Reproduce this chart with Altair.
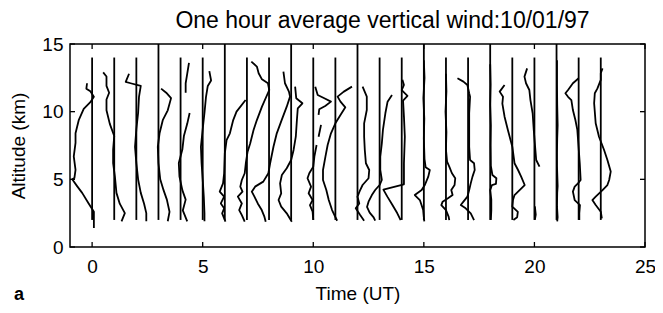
import altair as alt
import pandas as pd

# ---- data -----------------------------------------------------------------
HOURS = list(range(24))
EXTENDED = [3, 6, 9, 12, 15, 18, 21]      # reference lines drawn to the top
REF_BOTTOM = 2.0
REF_TOP = 14.0
EXT_TOP = 15.0
XTICKS = [0, 5, 10, 15, 20, 25]
YTICKS = [0, 5, 10, 15]

# each profile: [altitude km, offset from its hour line]; None = gap
w00 = [[12.1, -0.23], [11.7, -0.26], [11.5, -0.08], [11.1, 0.08], [10.7, -0.08], [10.2, -0.38],
       [9.4, -0.6], [8.4, -0.75], [7.7, -0.75], [6.7, -0.83], [5.7, -0.75], [5.1, -0.8],
       [5.0, -0.9], [4.5, -0.68], [4.0, -0.45], [3.2, -0.15], [2.6, 0.08], [2.3, 0.08], [1.4, 0.08]]
w01 = [[12.9, -0.5], [12.6, -0.35], [11.9, -0.35], [11.4, -0.23], [10.9, -0.35], [10.1, -0.35],
       [9.1, -0.2], [8.2, 0.0], [7.2, -0.05], [6.2, -0.05], [5.2, 0.03], [4.0, 0.1], [3.2, 0.25],
       [2.5, 0.48], [1.9, 0.33]]
w02 = [[12.8, -0.33], [12.2, -0.48], [12.1, -0.26], [11.9, 0.2], [11.1, 0.12], [9.9, 0.08],
       [8.7, 0.0], [7.4, -0.06], [6.2, 0.0], [5.0, 0.08], [4.0, 0.2], [3.2, 0.35], [2.5, 0.45],
       [1.9, 0.45]]
w03 = [[11.7, 0.12], [11.4, 0.35], [11.0, 0.57], [10.1, 0.42], [9.4, 0.2], [8.4, 0.05],
       [7.4, -0.03], [6.2, 0.0], [5.0, 0.08], [4.2, 0.23], [3.5, 0.38], [2.6, 0.5], [1.9, 0.42]]
w04 = [[13.6, 0.38], [12.8, 0.3], [12.1, 0.23], [11.4, 0.23], None,
       [9.9, 0.41], [9.1, 0.3], [8.2, 0.15], [7.2, 0.08], [6.2, -0.08], [5.2, -0.05],
       [4.2, 0.08], [3.5, 0.23], [2.7, 0.1], [1.9, 0.3]]
w05 = [[13.0, 0.3], [12.3, 0.38], [11.9, 0.23], [11.1, 0.15], [9.9, 0.08], [8.7, 0.0],
       [7.4, -0.08], [6.2, -0.05], [5.0, 0.0], [3.7, 0.05], [2.5, 0.08], [1.9, 0.08]]
w06 = [[10.86, 0.94], [10.0, 0.53], [9.38, 0.38], [8.4, 0.23], [7.9, 0.08], [6.92, 0.0],
       [5.45, -0.03], [4.7, -0.08], [4.09, -0.23], [3.72, -0.03], [3.22, -0.18], [2.86, -0.03],
       [2.49, -0.12], [1.87, 0.03]]
w07 = [[13.7, 0.2], [13.33, 0.45], [12.84, 0.53], [12.39, 0.68], [12.1, 0.95], [11.6, 1.01],
       [10.37, 0.68], [9.38, 0.45], [8.65, 0.3], [7.66, 0.15], [7.04, 0.03], [6.19, -0.05],
       [5.45, -0.1], [4.95, -0.23], [4.46, -0.3], [4.09, -0.2], [3.72, -0.41], [3.22, -0.23],
       [2.73, -0.35], [2.36, -0.23], [1.87, -0.1]]
w08 = [[12.96, 0.65], [12.1, 0.72], [11.48, 0.9], [11.11, 0.95], [10.37, 0.8], [9.38, 0.57],
       [8.4, 0.35], [7.41, 0.2], [6.19, 0.05], [5.45, -0.03], [4.83, -0.26], [4.46, -0.63],
       [4.09, -0.78], [3.72, -0.66], [3.22, -0.51], [2.73, -0.33], [2.24, -0.21], [1.87, -0.15]]
w09 = [[11.85, 0.18], [10.99, 0.23], [10.62, 0.51], [10.25, 0.3], [9.38, 0.26], [8.15, 0.21],
       [7.17, 0.11], [6.43, 0.0], [5.82, -0.2], [5.32, -0.42], [4.7, -0.5], [3.96, -0.45],
       [3.47, -0.57], [2.98, -0.45], [2.49, -0.2], [1.87, 0.03]]
w10 = [[11.85, 0.09], [11.23, 0.2], [10.99, 0.5], [10.74, 0.8], [10.42, 0.54], [10.18, 0.27],
       [9.76, 0.24], None, [9.02, 0.35], [8.15, 0.24], None,
       [7.54, 0.15], [6.68, 0.05], [5.94, 0.0], [5.45, -0.18], [5.08, -0.26], [4.46, -0.1],
       [3.97, -0.21], [3.47, -0.03], [3.1, -0.15], [2.61, -0.03], [2.0, 0.0]]
w11 = [[11.85, 0.75], [11.48, 0.38], [11.11, 0.1], [10.74, 0.23], [10.32, 0.45], [9.76, 0.23],
       [9.14, 0.0], [8.4, -0.2], [7.54, -0.35], [6.68, -0.45], [5.69, -0.56], [4.95, -0.56],
       [4.21, -0.41], [3.47, -0.3], [2.73, -0.15], [1.94, 0.08]]
w12 = [[11.85, 0.23], [11.11, 0.42], [10.12, 0.42], [9.14, 0.3], [8.15, 0.3], [7.17, 0.33],
       [6.19, 0.38], [5.69, 0.53], [5.08, 0.5], [4.58, 0.23], [4.21, 0.12], [3.72, 0.0],
       [3.22, 0.08], [2.86, -0.08], [2.36, 0.12], [1.94, 0.3]]
w13 = [[11.23, 0.56], [10.74, 0.36], [9.88, 0.26], [8.65, 0.15], [7.66, 0.1], [6.68, 0.03],
       [5.69, 0.03], [4.95, 0.1], [4.58, 0.0], [4.21, -0.2], [3.84, -0.35], [3.35, -0.5],
       [2.96, -0.57], [2.54, -0.45], [2.19, -0.27], [1.94, -0.2]]
w14 = [[12.35, 0.03], [11.97, 0.1], [11.6, 0.0], [11.16, 0.26], [10.81, 0.06], [9.63, 0.1],
       [8.15, 0.14], [6.19, 0.1], [4.63, 0.1], [4.24, -0.83], [3.72, -0.65], [3.1, -0.42],
       [2.49, -0.2], [1.99, -0.05]]
w15 = [[13.8, 0.0], [12.5, 0.03], [11.0, -0.02], [9.5, 0.02], [8.0, 0.0], [6.5, 0.03],
       [5.9, 0.08], [5.69, 0.27], [5.2, 0.2], [4.6, 0.05], [4.21, -0.1], [3.84, -0.41],
       [3.47, -0.18], [2.73, -0.03], [2.2, 0.0], [1.9, 0.02]]
w16 = [[12.8, 0.0], [11.5, 0.02], [10.0, -0.02], [8.5, 0.02], [7.2, 0.0], [6.31, 0.05],
       [5.94, 0.15], [5.45, 0.27], [5.08, 0.42], [4.58, 0.39], [4.21, 0.24], [3.84, 0.3],
       [3.6, 0.09], [3.35, -0.15], [3.1, -0.21], [2.73, 0.0], [2.24, 0.12], [1.99, 0.15]]
w17 = [[12.47, -0.48], [12.22, -0.21], [11.97, -0.03], [11.36, 0.05], [11.1, 0.09], [9.88, 0.05],
       [7.41, 0.05], [6.43, 0.09], [6.19, 0.27], [5.69, 0.3], [5.2, 0.2], [4.7, 0.12],
       [4.21, 0.05], [3.72, -0.03], [3.35, -0.21], [3.1, -0.33], [2.86, -0.11], [2.49, 0.12],
       [1.99, 0.27]]
w18 = [[13.5, 0.0], [12.0, 0.02], [10.5, 0.0], [9.0, 0.03], [7.5, 0.02], [6.0, 0.03],
       [5.32, 0.1], [5.08, 0.28], [4.66, 0.26], [4.58, 0.08], [4.2, 0.0], [3.5, 0.05],
       [2.7, 0.05], [2.0, 0.03]]
w19 = [[11.97, -0.35], [11.48, -0.57], [11.1, -0.42], [10.6, -0.45], [9.63, -0.35], [8.65, -0.2],
       [7.41, 0.0], [6.19, 0.1], [5.69, 0.26], [5.2, 0.4], [4.58, 0.56], [4.21, 0.33],
       [3.84, 0.1], [3.47, 0.03], [2.98, 0.0], [2.6, 0.25], [2.2, 0.22], [2.0, 0.05]]
w20 = [[13.2, -0.33], [12.59, -0.45], [12.1, -0.38], [11.6, -0.23], [10.86, -0.18], [9.88, -0.08],
       [8.65, -0.03], [6.43, 0.08], [5.94, 0.23], None,
       [3.0, 0.02], [2.4, 0.06], [2.0, 0.02]]
w21 = [[13.8, 0.02], [12.0, 0.02], [10.5, 0.03], [9.0, 0.05], [8.0, 0.03], [7.0, 0.02],
       [6.0, 0.02], [4.5, 0.05], [4.0, 0.03], [3.0, 0.02], [2.2, 0.05], [1.9, 0.03]]
w22 = [[12.47, 0.0], [12.1, -0.26], [11.6, -0.48], [11.36, -0.6], [11.1, -0.48], [10.86, -0.33],
       [10.12, -0.26], [9.4, -0.15], [8.65, -0.06], [6.19, 0.05], [4.95, 0.09], [4.7, -0.03],
       [4.46, -0.18], [4.09, -0.26], [3.47, -0.18], [3.1, 0.06], [2.5, 0.03], [2.0, 0.03]]
w23 = [[13.2, 0.08], [12.84, 0.0], [12.35, 0.0], [11.72, -0.15], [11.36, -0.27], [10.62, -0.3],
       [9.14, -0.23], [8.15, -0.08], [7.17, 0.15], [6.43, 0.3], [5.57, 0.45], [4.95, 0.38],
       [4.58, 0.3], [4.21, 0.08], [3.72, -0.23], [3.47, -0.38], [3.1, -0.23], [2.61, 0.0],
       [2.12, 0.05]]

PROFILES = [w00, w01, w02, w03, w04, w05, w06, w07, w08, w09, w10, w11,
            w12, w13, w14, w15, w16, w17, w18, w19, w20, w21, w22, w23]

# ---- tables -----------------------------------------------------------------
rows = []
for h, prof in zip(HOURS, PROFILES):
    seg = 0
    for i, p in enumerate(prof):
        if p is None:
            seg += 1
            continue
        rows.append({"key": f"{h}-{seg}", "i": i, "alt": p[0], "xpos": h + p[1]})
prof_df = pd.DataFrame(rows)

ref_df = pd.DataFrame({
    "hour": HOURS,
    "y1": [REF_BOTTOM] * len(HOURS),
    "y2": [EXT_TOP if h in EXTENDED else REF_TOP for h in HOURS],
})
xt_df = pd.DataFrame({"t": XTICKS})
yt_df = pd.DataFrame({"t": YTICKS})

# ---- chart ------------------------------------------------------------------
W, H = 575, 203
FONT = "Liberation Sans"
xs = alt.Scale(domain=[-1, 25], nice=False, zero=False)
ys = alt.Scale(domain=[0, 15], nice=False, zero=False)
xaxis = alt.Axis(values=XTICKS, title="Time (UT)", ticks=False, domain=False, grid=False,
                 labelFontSize=19, labelPadding=10, labelFlush=False, labelOverlap=False,
                 titleFontSize=19, titleFontWeight="normal", titlePadding=8,
                 labelColor="black", titleColor="black", labelFont=FONT, titleFont=FONT)
yaxis = alt.Axis(values=YTICKS, title="Altitude (km)", ticks=False, domain=False, grid=False,
                 labelFontSize=19, labelPadding=7, labelOverlap=False,
                 titleFontSize=19, titleFontWeight="normal", titlePadding=13,
                 labelColor="black", titleColor="black", labelFont=FONT, titleFont=FONT)

ref = alt.Chart(ref_df).mark_rule(color="black", strokeWidth=1.8).encode(
    x=alt.X("hour:Q", scale=xs, axis=xaxis),
    y=alt.Y("y1:Q", scale=ys, axis=yaxis),
    y2="y2:Q",
)
prof = alt.Chart(prof_df).mark_line(color="black", strokeWidth=1.8, strokeJoin="round").encode(
    x=alt.X("xpos:Q", scale=xs, axis=xaxis),
    y=alt.Y("alt:Q", scale=ys, axis=yaxis),
    detail="key:N",
    order="i:Q",
)
TL = 5
xt_bot = alt.Chart(xt_df).mark_rule(color="black", strokeWidth=1.3).encode(
    x=alt.X("t:Q", scale=xs, axis=xaxis), y=alt.value(H), y2=alt.value(H - TL))
xt_top = alt.Chart(xt_df).mark_rule(color="black", strokeWidth=1.3).encode(
    x=alt.X("t:Q", scale=xs, axis=xaxis), y=alt.value(0), y2=alt.value(TL))
yt_left = alt.Chart(yt_df).mark_rule(color="black", strokeWidth=1.3).encode(
    y=alt.Y("t:Q", scale=ys, axis=yaxis), x=alt.value(0), x2=alt.value(TL))
yt_right = alt.Chart(yt_df).mark_rule(color="black", strokeWidth=1.3).encode(
    y=alt.Y("t:Q", scale=ys, axis=yaxis), x=alt.value(W), x2=alt.value(W - TL))
panel = alt.Chart(pd.DataFrame({"t": ["a"]})).mark_text(
    font=FONT, fontSize=18, fontWeight="bold", align="left", baseline="alphabetic",
    color="black").encode(text="t:N", x=alt.value(-56), y=alt.value(256))

chart = alt.layer(ref, prof, xt_bot, xt_top, yt_left, yt_right, panel).properties(
    width=W, height=H,
    title=alt.TitleParams("One hour average vertical wind:10/01/97", font=FONT, fontSize=23,
                          fontWeight="normal", anchor="middle", dx=25, offset=2,
                          color="black"),
    autosize=alt.AutoSizeParams(type="none"),
    padding={"left": 62, "top": 36, "right": 10, "bottom": 58},
    background="white",
).configure_view(stroke="black", strokeWidth=1.5)

chart.save("out.html", embed_options={"renderer": "svg", "actions": False})
